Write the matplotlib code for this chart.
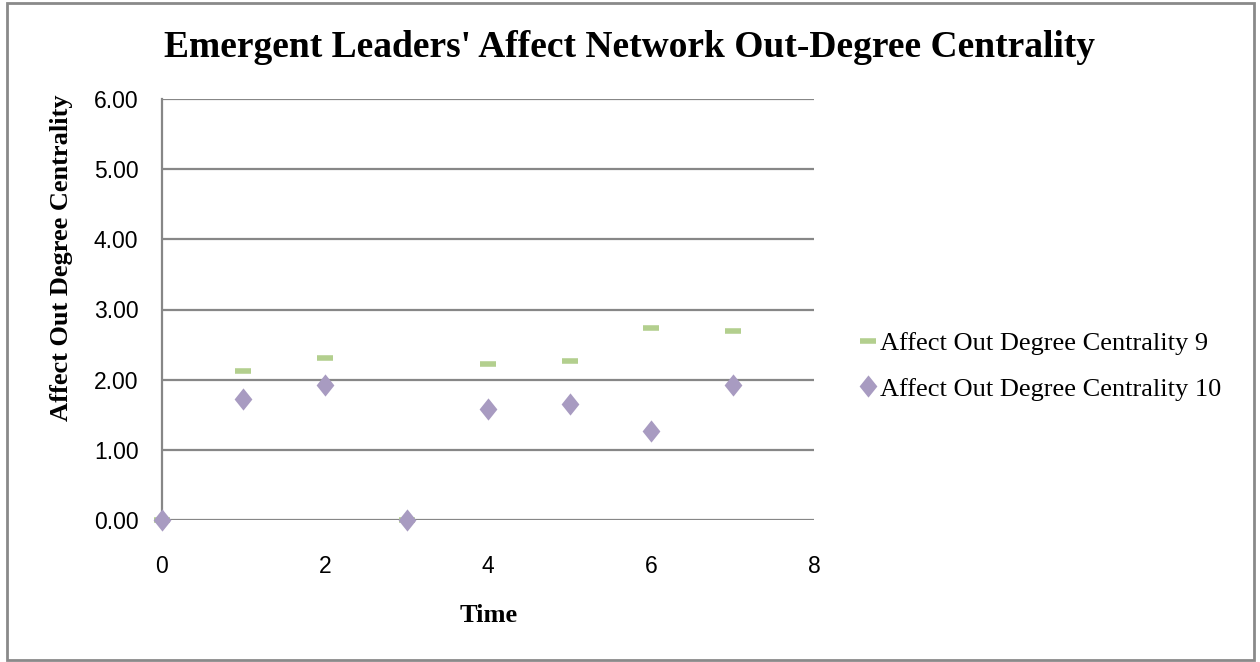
import numpy as np
import matplotlib.pyplot as plt
from matplotlib.patches import Rectangle
from matplotlib.path import Path

# data
time = [0, 1, 2, 3, 4, 5, 6, 7]
centrality_9 = [0.0, 2.12, 2.31, 0.0, 2.23, 2.27, 2.74, 2.70]
centrality_10 = [0.0, 1.73, 1.92, 0.0, 1.58, 1.66, 1.27, 1.92]
series_names = ["Affect Out Degree Centrality 9", "Affect Out Degree Centrality 10"]
xticks = [0, 2, 4, 6, 8]
yticks = [0, 1, 2, 3, 4, 5, 6]

serif = "Liberation Serif"
sans = "Liberation Sans"
green = "#B3CF8E"
purple = "#A89BC1"
grid_col = "#878787"

W, H = 1260, 662
fig = plt.figure(figsize=(W/100, H/100), dpi=100)
ax = fig.add_axes([162/W, 1 - 520/H, (814 - 162)/W, (520 - 99)/H])

# excel-ish narrow diamond
diamond = Path([(0, 1), (0.8, 0), (0, -1), (-0.8, 0), (0, 1)],
               [Path.MOVETO, Path.LINETO, Path.LINETO, Path.LINETO, Path.CLOSEPOLY])

ax.plot(time, centrality_9, linestyle="none", marker="_", markersize=11,
        markeredgewidth=4, color=green, label=series_names[0], zorder=3, clip_on=False)
ax.plot(time, centrality_10, linestyle="none", marker=diamond, markersize=16,
        markeredgewidth=0, color=purple, label=series_names[1], zorder=4, clip_on=False)

ax.set_xlim(0, 8)
ax.set_ylim(0, 6)
ax.set_xticks(xticks)
ax.set_yticks(yticks)
ax.set_yticklabels(["%.2f" % v for v in yticks])
ax.yaxis.grid(True, color=grid_col, linewidth=1.6)
ax.set_axisbelow(True)
for s in ["top", "right", "bottom"]:
    ax.spines[s].set_visible(False)
ax.spines["left"].set_color(grid_col)
ax.spines["left"].set_linewidth(1.6)
ax.tick_params(length=0, labelsize=16.5)
ax.tick_params(axis="y", pad=17)
ax.tick_params(axis="x", pad=25)
for lab in ax.get_xticklabels() + ax.get_yticklabels():
    lab.set_fontfamily(sans)

fig.text(489/W, 1 - 622/H, "Time", ha="center", va="baseline",
         fontfamily=serif, fontweight="bold", fontsize=19)
fig.text(62/W, 1 - 258/H, "Affect Out Degree Centrality", ha="center", va="center",
         rotation=90, fontfamily=serif, fontweight="bold", fontsize=19)

fig.text(629/W, 1 - 57/H, "Emergent Leaders' Affect Network Out-Degree Centrality",
         ha="center", va="baseline", fontfamily=serif, fontweight="bold", fontsize=27)

leg = ax.legend(loc="center left", bbox_to_anchor=(860/W, 1 - 366/H),
                bbox_transform=fig.transFigure, frameon=False,
                prop={"family": serif, "size": 19}, handlelength=0.6,
                handletextpad=0.15, labelspacing=0.85, borderaxespad=0, borderpad=0)

fig.patches.append(Rectangle((7/W, 2/H), 1247/W, 657/H,
                             transform=fig.transFigure, fill=False,
                             edgecolor="#8a8a8a", linewidth=2))

fig.savefig("out.png", dpi=100)
